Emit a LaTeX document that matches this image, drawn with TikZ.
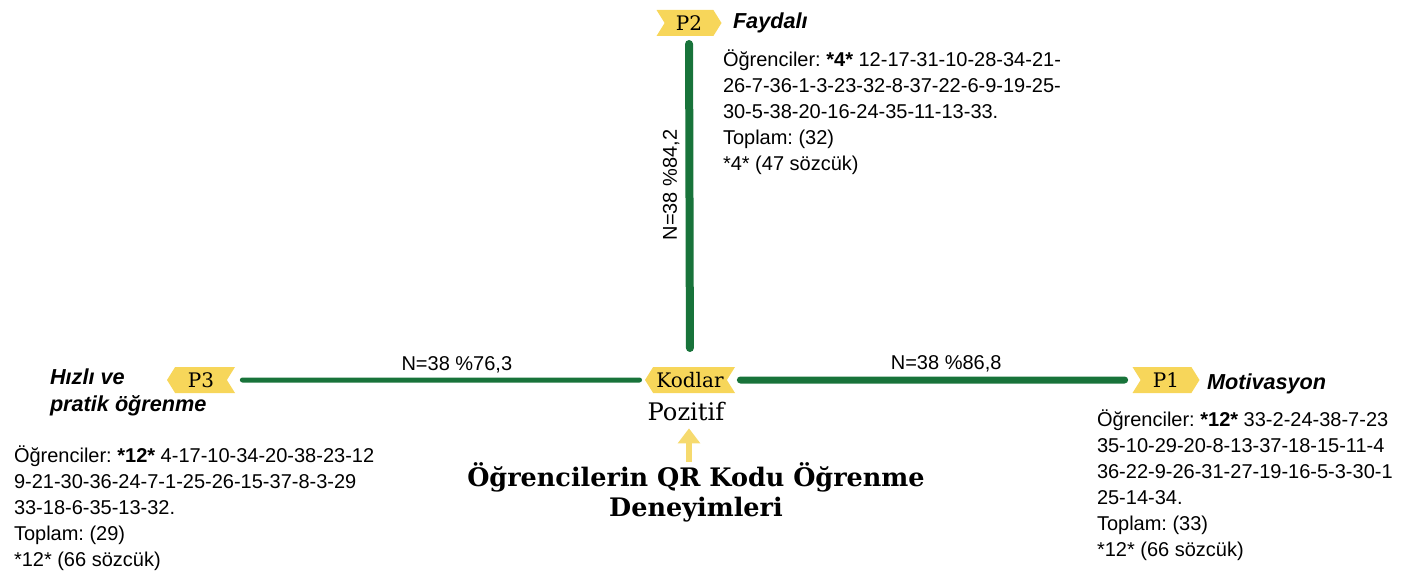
\documentclass[tikz,border=0pt]{standalone}
\usepackage{fontspec}
\setmainfont{DejaVu Serif}
\setsansfont{Liberation Sans}
\usetikzlibrary{shapes.symbols,arrows.meta}
\definecolor{yesil}{HTML}{18733A}
\definecolor{sari}{HTML}{F7D65A}
\definecolor{oksari}{HTML}{F6DA6E}
\frenchspacing

\begin{document}
\begin{tikzpicture}[x=0.6pt, y=-0.6pt]
\tikzset{ >=latex, inner sep=0pt, outer sep=0pt,
  etiket/.style={signal, fill=sari, signal pointer angle=116, minimum height=15.6pt, font=\fontsize{12}{14}\selectfont},
  baslik/.style={font=\sffamily\bfseries\itshape\fontsize{13}{16.2}\selectfont},
  liste/.style={font=\sffamily\fontsize{12}{15.6}\selectfont, align=left},
  oran/.style={font=\sffamily\fontsize{12}{14}\selectfont},
  hat/.style={draw=yesil, line cap=round},
}

\useasboundingbox (0,0) rectangle (1415,572);

%%% Etiketler

% P2 ust
\node [etiket, signal from=west, signal to=east, minimum width=39pt] (P2) at (689,23) {P2};
% Kodlar orta
\node [etiket, signal from=east, signal to=west, minimum width=54pt] (Kodlar) at (690,380) {Kodlar};
% P3 sol
\node [etiket, signal from=east, signal to=west, minimum width=40.8pt] (P3) at (201,380) {P3};
% P1 sag
\node [etiket, signal from=west, signal to=east, minimum width=40.2pt] (P1) at (1166,380) {P1};

%%% Basliklar
\node [baslik, anchor=base west] (Faydali) at (733,29) {Faydalı};
\node [baslik, anchor=base west] (Motivasyon) at (1207,389) {Motivasyon};
\node [baslik, anchor=north west, align=left] (Hizli) at (50,369) {Hızlı ve\\pratik öğrenme};

\node [font=\fontsize{14.5}{17}\selectfont, anchor=base] (Pozitif) at (686,420) {Pozitif};
\node [font=\bfseries\fontsize{15.3}{18}\selectfont, align=center, anchor=north] (Deneyim) at (696,463)
  {Öğrencilerin QR Kodu Öğrenme\\Deneyimleri};

%%% Ogrenci listeleri
\node [liste, anchor=north west] (ListeP2) at (723,50)
  {Öğrenciler: \textbf{*4*} 12-17-31-10-28-34-21-\\26-7-36-1-3-23-32-8-37-22-6-9-19-25-\\30-5-38-20-16-24-35-11-13-33.\\Toplam: (32)\\*4* (47 sözcük)};
\node [liste, anchor=north west] (ListeP3) at (14,446)
  {Öğrenciler: \textbf{*12*} 4-17-10-34-20-38-23-12\\9-21-30-36-24-7-1-25-26-15-37-8-3-29\\33-18-6-35-13-32.\\Toplam: (29)\\*12* (66 sözcük)};
\node [liste, anchor=north west] (ListeP1) at (1097,410)
  {Öğrenciler: \textbf{*12*} 33-2-24-38-7-23\\35-10-29-20-8-13-37-18-15-11-4\\36-22-9-26-31-27-19-16-5-3-30-1\\25-14-34.\\Toplam: (33)\\*12* (66 sözcük)};

%%% Hatlar

% P3 -> Kodlar
\draw [hat, line width=3pt, shorten <=9.3pt, shorten >=3.3pt] (P3) -- (Kodlar)
  node [oran, pos=0.55, anchor=south, yshift=4pt] {N=38 \%76,3};

% Kodlar -> P1
\draw [hat, line width=4.2pt, shorten <=8.1pt, shorten >=9.6pt] (Kodlar) -- (P1)
  node [oran, pos=0.53, anchor=south, yshift=5pt] {N=38 \%86,8};

% P2 -> Kodlar
\draw [hat, line width=4.8pt, shorten <=4.8pt, shorten >=11.4pt] (P2) -- (Kodlar)
  node [oran, pos=0.45, rotate=90, anchor=south, yshift=6pt] {N=38 \%84,2};

% ok -> Pozitif
\coordinate (okUcu) at (689,462);
\draw [draw=oksari, line width=3.6pt, -{Triangle[width=13pt, length=9pt]}, shorten >=4.8pt] (okUcu) -- (okUcu |- Pozitif.south);

\end{tikzpicture}
\end{document}
